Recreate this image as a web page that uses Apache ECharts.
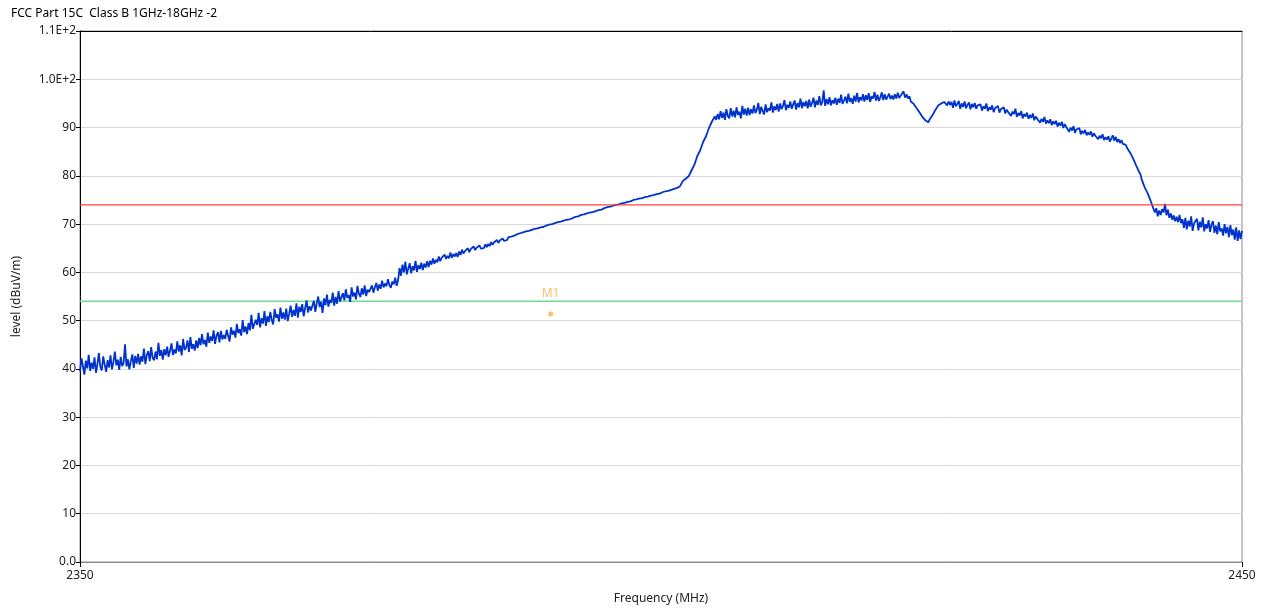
<!DOCTYPE html>
<html>
<head>
<meta charset="utf-8">
<script src="https://cdn.jsdelivr.net/npm/echarts@6/dist/echarts.min.js"></script>
<style>
  html, body { margin: 0; padding: 0; background: #fff; }
  #chart { width: 1263px; height: 608px; }
</style>
</head>
<body>
<div id="chart"></div>
<script>
// Sweep settings: 2350 – 2450 MHz, 0.125 MHz per point (20 points = 2.5 MHz per row)
const startFreq = 2350;
const stopFreq = 2450;
const stepMHz = 0.125;

// Measured level (dBuV/m), one value per sweep point
const traceLevels = [
  39.5, 42.2, 40.6, 38.8, 41.7, 40.1, 42.9, 39.6, 41.3, 40.0, 42.4, 39.2, 41.0, 43.3, 40.4, 39.7, 42.6, 40.9, 39.4, 41.8,
  40.3, 42.8, 39.9, 41.4, 43.6, 40.7, 41.9, 39.8, 42.5, 40.6, 41.2, 45.1, 40.5, 42.0, 39.9, 41.6, 43.0, 40.2, 42.7, 41.1,
  43.1, 40.9, 42.6, 41.5, 44.2, 41.0, 42.9, 43.7, 41.6, 44.5, 42.3, 41.8, 43.6, 42.0, 45.4, 42.7, 43.9, 41.9, 44.1, 42.8,
  44.6, 42.5, 43.8, 45.3, 42.9, 44.0, 43.2, 45.7, 43.6, 44.9, 42.8, 46.2, 43.9, 44.4, 45.9, 43.5, 46.6, 44.2, 45.1, 43.8,
  45.9, 44.3, 46.4, 44.9, 47.2, 45.1, 46.0, 44.6, 47.5, 45.4, 46.7, 45.8, 48.0, 45.2, 46.9, 47.6, 45.5, 47.9, 46.1, 47.0,
  46.2, 48.1, 46.8, 45.7, 48.6, 47.1, 47.9, 46.5, 49.3, 47.4, 48.2, 46.9, 50.1, 47.6, 48.8, 47.2, 49.5, 48.0, 51.2, 48.3,
  47.9, 50.2, 49.1, 51.6, 48.6, 50.5, 49.4, 52.0, 48.9, 50.9, 49.7, 51.8, 50.1, 49.2, 52.4, 50.6, 51.3, 49.8, 52.7, 50.4,
  51.7, 50.2, 52.5, 49.9, 51.4, 53.1, 50.8, 52.2, 51.0, 53.6, 50.6, 52.9, 51.8, 53.4, 50.9, 52.6, 54.2, 51.7, 53.0, 52.1,
  52.5, 54.1, 51.8, 53.6, 55.0, 52.8, 53.9, 51.6, 54.6, 53.2, 55.4, 52.9, 54.3, 53.7, 55.8, 53.1, 54.9, 53.5, 56.1, 54.0,
  53.8, 55.7, 54.2, 56.5, 54.7, 55.3, 53.9, 56.9, 55.0, 55.8, 54.4, 57.2, 55.6, 54.9, 56.7, 55.4, 57.3, 55.1, 56.4, 55.9,
  56.0, 57.3, 55.8, 56.9, 57.8, 56.2, 57.5, 56.6, 58.3, 56.9, 57.7, 57.1, 58.6, 57.4, 56.8, 58.1, 57.5, 58.9, 57.2, 58.4,
  60.9, 59.3, 61.6, 60.0, 62.2, 59.6, 60.8, 61.9, 59.8, 61.3, 60.4, 62.4, 60.1, 61.5, 60.7, 62.0, 60.5, 61.8, 61.0, 62.3,
  61.1, 62.4, 61.6, 62.9, 61.8, 62.6, 62.1, 63.3, 62.3, 63.0, 62.6, 63.7, 62.8, 63.4, 62.9, 64.1, 63.0, 63.8, 63.3, 64.0,
  63.2, 64.3, 63.6, 64.7, 63.9, 64.4, 64.0, 65.0, 64.2, 64.8, 64.4, 65.4, 64.6, 65.1, 64.7, 65.6, 64.9, 65.3, 65.0, 65.8,
  65.2, 65.9, 65.4, 66.3, 65.7, 66.2, 65.9, 66.7, 66.1, 66.6, 66.3, 67.0, 66.5, 66.9, 66.7, 67.3, 66.9, 67.4, 67.1, 67.6,
  67.3, 67.9, 67.5, 68.1, 67.7, 68.3, 67.9, 68.5, 68.1, 68.6, 68.3, 68.8, 68.5, 69.0, 68.6, 69.1, 68.8, 69.3, 69.0, 69.4,
  69.2, 69.7, 69.4, 69.9, 69.6, 70.0, 69.8, 70.2, 69.9, 70.4, 70.1, 70.5, 70.3, 70.7, 70.4, 70.9, 70.6, 71.0, 70.8, 71.2,
  71.0, 71.5, 71.2, 71.6, 71.4, 71.9, 71.6, 72.0, 71.8, 72.2, 71.9, 72.4, 72.1, 72.5, 72.3, 72.7, 72.4, 72.9, 72.6, 73.0,
  72.8, 73.3, 73.0, 73.5, 73.2, 73.6, 73.4, 73.8, 73.5, 74.0, 73.7, 74.1, 73.9, 74.3, 74.0, 74.4, 74.2, 74.6, 74.3, 74.7,
  74.5, 75.0, 74.7, 75.1, 74.9, 75.3, 75.0, 75.4, 75.2, 75.6, 75.3, 75.7, 75.5, 75.9, 75.6, 76.0, 75.8, 76.2, 75.9, 76.3,
  76.1, 76.6, 76.3, 76.8, 76.4, 76.9, 76.6, 77.1, 76.8, 77.3, 77.0, 77.5, 77.2, 77.8, 78.1, 78.9, 78.6, 79.4, 79.2, 79.9,
  80.2, 81.1, 81.3, 82.3, 82.4, 84.1, 84.0, 85.3, 85.2, 87.0, 86.8, 88.2, 88.1, 89.9, 89.8, 91.2, 91.0, 92.3, 91.6, 92.8,
  91.7, 93.4, 92.0, 93.1, 91.6, 93.8, 92.4, 91.9, 94.0, 92.3, 93.5, 92.1, 94.2, 92.6, 93.3, 91.9, 94.5, 92.7, 93.9, 92.5,
  94.1, 92.6, 93.8, 92.9, 94.6, 93.0, 93.7, 95.1, 92.8, 94.3, 93.4, 92.7, 94.8, 93.2, 94.0, 93.5, 95.2, 93.1, 94.4, 93.6,
  94.9, 93.3, 95.0, 93.8, 94.5, 95.7, 93.6, 94.7, 94.1, 95.4, 93.9, 94.8, 95.6, 93.7, 95.1, 94.2, 96.0, 94.0, 95.3, 94.4,
  95.5, 94.0, 95.8, 94.3, 95.1, 96.2, 94.2, 95.6, 94.7, 96.5, 94.6, 95.2, 97.7, 94.5, 95.9, 94.8, 96.3, 94.6, 95.7, 95.0,
  96.2, 94.7, 96.0, 95.1, 96.8, 94.9, 95.6, 96.4, 95.0, 97.0, 95.3, 96.1, 94.9, 96.6, 95.4, 97.2, 95.2, 96.3, 95.6, 96.9,
  95.4, 96.7, 95.7, 97.1, 95.3, 96.5, 96.0, 97.4, 95.6, 96.8, 95.5, 96.2, 97.3, 95.7, 96.9, 95.8, 96.4, 97.0, 95.9, 96.6,
  95.8, 96.9, 96.0, 97.2, 96.1, 96.6, 96.3, 97.5, 96.2, 96.9, 96.0, 96.5, 95.4, 95.8, 94.9, 95.1, 94.0, 93.9, 93.1, 92.8,
  92.2, 92.0, 91.5, 91.8, 91.1, 91.7, 92.0, 92.6, 92.9, 93.7, 93.8, 94.6, 94.5, 95.0, 94.8, 95.3, 95.1, 94.6, 95.4, 94.7,
  95.3, 94.1, 95.6, 94.4, 94.9, 95.5, 93.9, 95.0, 94.3, 95.4, 94.0, 94.7, 95.2, 93.8, 94.9, 94.2, 95.1, 93.9, 94.6, 94.3,
  94.8, 93.5, 94.4, 93.9, 95.0, 93.4, 94.2, 93.7, 94.6, 93.2, 94.0, 93.6, 94.5, 93.1, 93.8, 93.4, 94.2, 92.9, 93.7, 93.2,
  93.6, 92.4, 93.3, 92.8, 93.9, 92.2, 93.0, 92.5, 93.4, 91.9, 92.8, 92.3, 93.1, 91.8, 92.6, 92.0, 92.9, 91.5, 92.3, 91.8,
  92.0, 91.0, 91.8, 91.2, 92.2, 90.8, 91.5, 90.9, 91.7, 90.5, 91.3, 90.7, 91.4, 90.2, 91.0, 90.4, 91.2, 89.9, 90.7, 90.1,
  90.2, 89.1, 90.0, 89.4, 90.3, 88.9, 89.6, 89.2, 89.9, 88.6, 89.3, 88.8, 89.5, 88.4, 89.0, 88.5, 89.2, 88.1, 88.8, 88.3,
  88.7, 87.6, 88.3, 87.8, 88.6, 87.4, 88.0, 87.5, 88.2, 87.1, 87.7, 88.4, 87.3, 88.1, 87.0, 87.6, 86.8, 87.4, 86.6, 87.0,
  86.4, 85.7, 86.0, 84.8, 84.9, 83.6, 83.5, 82.2, 81.8, 80.9, 80.4, 79.2, 79.3, 77.6, 78.0, 76.4, 76.8, 74.9, 75.0, 73.2,
  72.4, 73.3, 71.6, 72.8, 71.9, 73.1, 72.4, 74.2, 71.8, 73.0, 71.3, 72.2, 70.9, 71.8, 70.6, 71.5, 70.4, 71.9, 70.2, 71.0,
  69.2, 71.3, 68.9, 70.7, 69.5, 71.6, 68.6, 70.2, 69.8, 71.1, 68.7, 70.5, 69.3, 71.4, 68.5, 70.0, 69.1, 70.8, 68.4, 69.9,
  70.6, 68.2, 69.7, 67.9, 70.4, 68.5, 69.1, 67.6, 70.0, 68.1, 69.4, 67.3, 69.8, 67.7, 68.9, 66.8, 69.3, 66.5, 68.7, 66.9,
  68.6
];

// Limit lines (dBuV/m)
const peakLimit = 74;
const avgLimit = 54;

// Marker M1: [frequency MHz, level dBuV/m]
const markerM1 = [2390.5, 51.4];

const xTickValues = [2350, 2450];

const traceData = traceLevels.map((v, i) => [startFreq + i * stepMHz, v]);

function levelLabel(v) {
  if (v === 0) return '0.0';
  if (v >= 100) return (v / 100).toFixed(1) + 'E+2';
  return String(v);
}

const chart = echarts.init(document.getElementById('chart'), null, { renderer: 'canvas' });
const font = '"Noto Sans", "DejaVu Sans", sans-serif';

chart.setOption({
  animation: false,
  backgroundColor: '#ffffff',
  textStyle: { fontFamily: font },
  title: {
    text: 'FCC Part 15C  Class B 1GHz-18GHz -2',
    left: 6, top: 3,
    textStyle: { fontSize: 12, fontWeight: 'normal', color: '#000', fontFamily: font }
  },
  grid: {
    left: 80, right: 21, top: 31, bottom: 46,
    outerBoundsMode: 'none',
    show: true, borderColor: '#8a8a8a', borderWidth: 1, backgroundColor: 'transparent'
  },
  xAxis: [{
    type: 'value',
    min: startFreq, max: stopFreq,
    name: 'Frequency (MHz)',
    nameLocation: 'middle', nameGap: 31,
    nameTextStyle: { fontSize: 12, color: '#222', fontFamily: font },
    axisLine: { show: true, lineStyle: { color: '#8a8a8a', width: 1 } },
    axisTick: { show: true, customValues: xTickValues, length: 5, inside: false, lineStyle: { color: '#000' } },
    axisLabel: {
      show: true, customValues: xTickValues, fontSize: 12, color: '#222', margin: 8, fontFamily: font,
      formatter: v => String(v)
    },
    splitLine: { show: false }
  }, {
    type: 'value', position: 'top',
    min: startFreq, max: stopFreq,
    axisLine: { show: true, lineStyle: { color: '#000', width: 1 } },
    axisTick: { show: false }, axisLabel: { show: false }, splitLine: { show: false }
  }],
  yAxis: {
    type: 'value',
    min: 0, max: 110, interval: 10,
    name: 'level (dBuV/m)',
    nameLocation: 'middle', nameGap: 57, nameRotate: 90,
    nameTextStyle: { fontSize: 12, color: '#222', fontFamily: font },
    axisLine: { show: true, lineStyle: { color: '#000', width: 1 } },
    axisTick: { show: true, length: 4, lineStyle: { color: '#000' } },
    axisLabel: { fontSize: 12, color: '#222', margin: 4, formatter: levelLabel, fontFamily: font },
    splitLine: { show: true, lineStyle: { color: '#d9d9d9', width: 1 } }
  },
  series: [
    {
      name: 'avg limit', type: 'line', silent: true, symbol: 'none', z: 1,
      data: [[startFreq, avgLimit], [stopFreq, avgLimit]],
      lineStyle: { color: '#6fdc8c', width: 1.5 }
    },
    {
      name: 'trace', type: 'line', symbol: 'none', z: 2,
      data: traceData,
      lineStyle: { color: '#0033cc', width: 1.8 }
    },
    {
      name: 'peak limit', type: 'line', silent: true, symbol: 'none', z: 3,
      data: [[startFreq, peakLimit], [stopFreq, peakLimit]],
      lineStyle: { color: '#ff4040', width: 1.3 }
    },
    {
      name: 'M1', type: 'scatter', z: 4,
      data: [markerM1],
      symbol: 'circle', symbolSize: 5,
      itemStyle: { color: '#f7b33c' },
      label: {
        show: true, position: 'top', distance: 12,
        formatter: 'M1', color: '#f5b041', fontSize: 12, fontFamily: font
      }
    }
  ]
});
</script>
</body>
</html>
